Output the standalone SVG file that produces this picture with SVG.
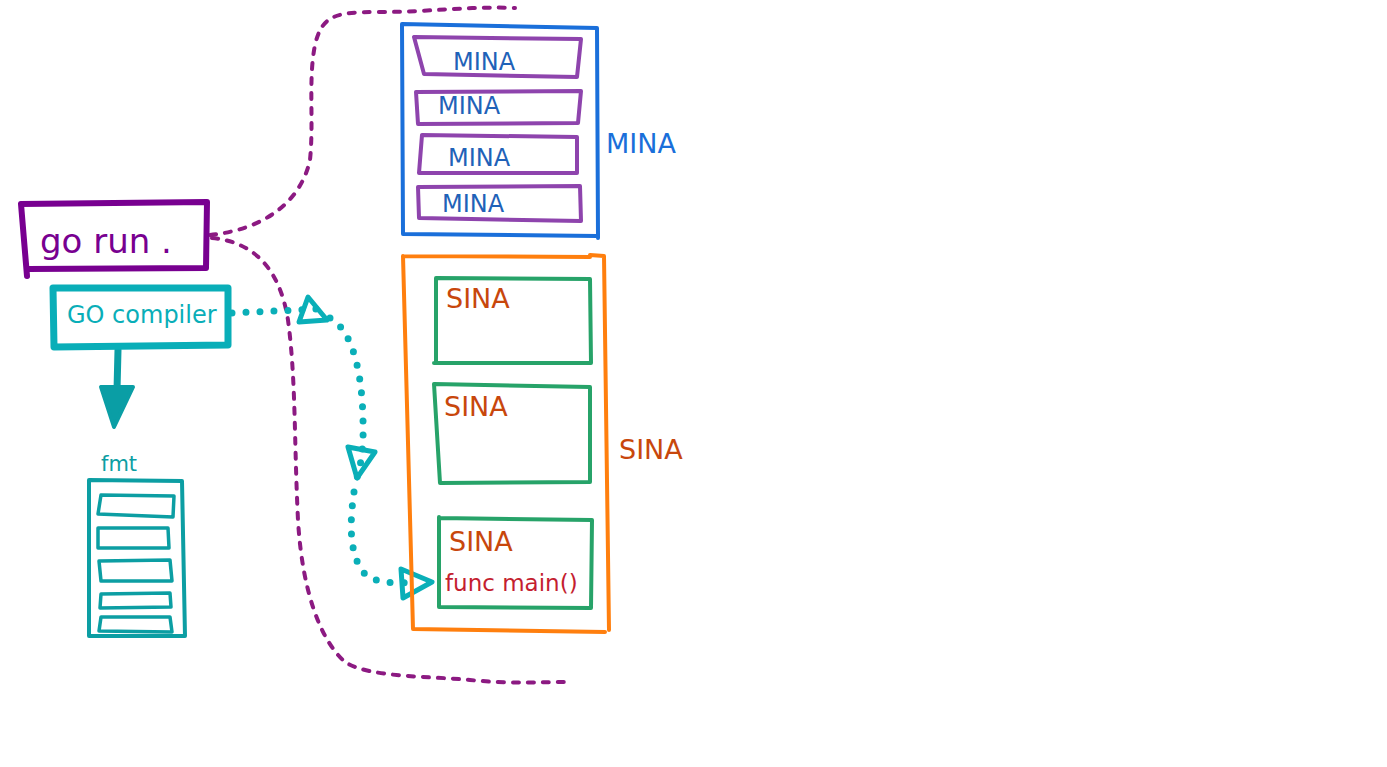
<svg xmlns="http://www.w3.org/2000/svg" width="1387" height="767" viewBox="0 0 1387 767">
<style>
text{font-family:"DejaVu Sans","Noto Sans",sans-serif}
.box{fill:none;stroke-linejoin:round;stroke-linecap:round}
.mina{fill:#1f62b8;font-size:24px}
.sina{fill:#c8470c;font-size:27px}
.prow{fill:none;stroke:#8e44ad;stroke-width:4;stroke-linejoin:round;stroke-linecap:round}
.grow{fill:none;stroke:#27a369;stroke-width:4;stroke-linejoin:round;stroke-linecap:round}
.frow{fill:none;stroke:#0c9ea3;stroke-width:3.5;stroke-linejoin:round;stroke-linecap:round}
.dash{fill:none;stroke:#8c1a82;stroke-width:4;stroke-dasharray:6 9;stroke-linecap:round}
.dot{fill:none;stroke:#0aafb8;stroke-width:7;stroke-dasharray:0 14;stroke-linecap:round}
.tri{fill:none;stroke:#0aafb8;stroke-width:5;stroke-linejoin:round}
</style>
<rect width="1387" height="767" fill="#ffffff"/>
<g id="connectors">
<path class="dash" d="M210,235 C260,230 300,205 310,160 C314,120 308,80 315,45 C322,15 335,12 380,12 C430,12 470,6 515,8"/>
<path class="dash" d="M212,238 C255,242 280,270 288,320 C296,380 294,440 298,520 C302,590 320,640 345,662 C370,678 430,676 470,680 C510,684 540,682 570,682"/>
<path class="dot" d="M232,313 L318,309"/>
<path class="dot" d="M330,318 C352,330 362,370 363,420 C364,450 360,470 356,480"/>
<path class="dot" d="M354,492 C350,520 348,555 365,574 C378,585 400,583 414,582"/>
<polygon class="tri" points="308,297 327,320 299,322"/>
<polygon class="tri" points="348,447 375,452 357,478"/>
<polygon class="tri" points="401,569 432,582 403,598"/>
<path d="M118,350 L117,390" stroke="#0a9ea5" stroke-width="7" stroke-linecap="round" fill="none"/>
<polygon points="101,387 133,387 114,427" fill="#0a9ea5" stroke="#0a9ea5" stroke-width="4" stroke-linejoin="round"/>
</g>
<g id="gorun">
<path class="box" stroke="#780090" stroke-width="6" d="M21,204 L207,202 L206,268 L28,269 M21,204 L27,276"/>
<text x="40" y="253" fill="#780090" font-size="34">go run .</text>
</g>
<g id="gocompiler">
<path class="box" stroke="#09aeb8" stroke-width="7" d="M53,288 L228,288 L228,345 L54,347 Z"/>
<text x="67" y="323" fill="#09aeb8" font-size="24">GO compiler</text>
</g>
<g id="fmt">
<text x="101" y="471" fill="#0c9ea3" font-size="21">fmt</text>
<path class="box" stroke="#0c9ea3" stroke-width="4" d="M89,480 L182,481 L185,636 L89,636 Z"/>
<path class="frow" d="M101,495 L174,496 L173,517 L98,514 Z"/>
<path class="frow" d="M98,528 L168,528 L169,548 L98,548 Z"/>
<path class="frow" d="M99,561 L170,560 L172,581 L101,581 Z"/>
<path class="frow" d="M101,594 L170,593 L171,607 L100,608 Z"/>
<path class="frow" d="M101,617 L170,617 L172,632 L99,631 Z"/>
</g>
<g id="mina">
<path class="box" stroke="#1a6fda" stroke-width="4" d="M402,24 L597,28 L598,238 M597,236 L403,234 L402,24"/>
<path class="prow" d="M414,37 L581,39 L577,77 L424,74 Z"/>
<text class="mina" x="453" y="70">MINA</text>
<path class="prow" d="M416,92 L581,91 L578,123 L418,124 Z"/>
<text class="mina" x="438" y="114">MINA</text>
<path class="prow" d="M422,135 L577,137 L577,173 L419,173 Z"/>
<text class="mina" x="448" y="166">MINA</text>
<path class="prow" d="M418,187 L580,186 L581,221 L419,218 Z"/>
<text class="mina" x="442" y="212">MINA</text>
<text x="606" y="153" fill="#1a6fda" font-size="27">MINA</text>
</g>
<g id="sina">
<path class="box" stroke="#ff7f0e" stroke-width="4" d="M403,256 L590,257 L590,255 L604,256 L609,630 M605,632 L413,629 L403,256"/>
<path class="grow" d="M436,278 L590,279 L591,363 L434,363 M436,278 L436,363"/>
<text class="sina" x="446" y="308">SINA</text>
<path class="grow" d="M434,384 L590,387 L590,482 L440,483 Z"/>
<text class="sina" x="444" y="416">SINA</text>
<path class="grow" d="M439,517 L439,607 L591,608 L592,520 L439,518"/>
<text class="sina" x="449" y="551">SINA</text>
<text x="445" y="591" fill="#c41e30" font-size="23">func main()</text>
<text class="sina" x="619" y="459">SINA</text>
</g>
</svg>
